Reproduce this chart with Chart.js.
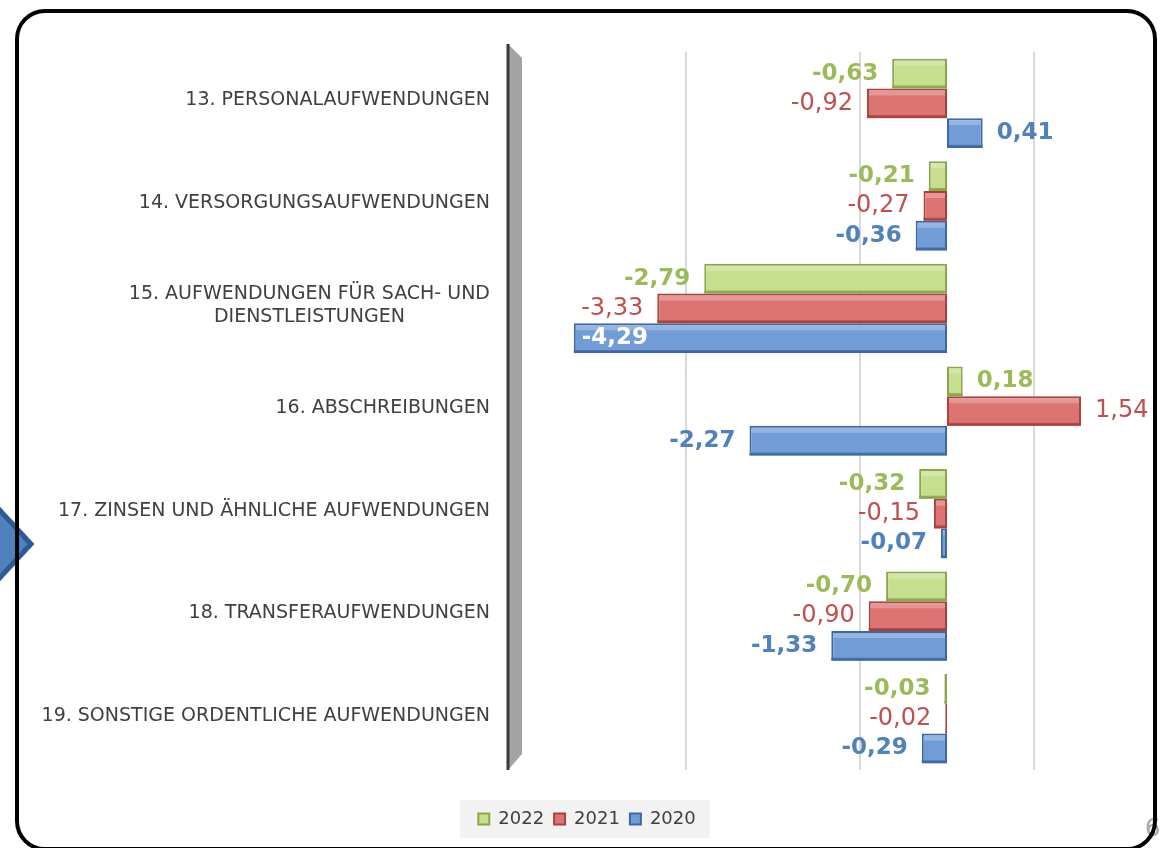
<!DOCTYPE html>
<html>
<head>
<meta charset="utf-8">
<script src="https://cdn.jsdelivr.net/npm/chart.js@4.4.1/dist/chart.umd.min.js"></script>
<style>
  html, body { margin:0; padding:0; background:#fff; overflow:hidden; }
  body { width:1167px; height:848px; position:relative; font-family:"DejaVu Sans", Verdana, sans-serif; }
  #chevron { position:absolute; left:0; top:498px; }
  #pageNo { position:absolute; left:1145px; top:814px; color:#a6a6a6; font-size:24px; }
  #frame { position:absolute; left:15px; top:9px; width:1134px; height:834px; border:4px solid #000; border-radius:30px; }
  #chart { position:absolute; left:0; top:0; }
</style>
</head>
<body>
<svg id="chevron" width="40" height="94">
  <polygon points="-6,6 31,46 -6,86" fill="#4f81bd" stroke="#2c5a92" stroke-width="5" stroke-linejoin="miter"/>
</svg>
<div id="pageNo">6</div>
<div id="frame"></div>
<canvas id="chart" width="1167" height="848"></canvas>
<script>
// Daten (Veränderung in Mio. EUR je Aufwandsart)
const categories = [
  '13. PERSONALAUFWENDUNGEN',
  '14. VERSORGUNGSAUFWENDUNGEN',
  ['15. AUFWENDUNGEN FÜR SACH- UND', 'DIENSTLEISTUNGEN'],
  '16. ABSCHREIBUNGEN',
  '17. ZINSEN UND ÄHNLICHE AUFWENDUNGEN',
  '18. TRANSFERAUFWENDUNGEN',
  '19. SONSTIGE ORDENTLICHE AUFWENDUNGEN'
];
const years = ['2022', '2021', '2020'];
const values2022 = [-0.63, -0.21, -2.79, 0.18, -0.32, -0.70, -0.03];
const values2021 = [-0.92, -0.27, -3.33, 1.54, -0.15, -0.90, -0.02];
const values2020 = [0.41, -0.36, -4.29, -2.27, -0.07, -1.33, -0.29];
const gridValues = [-3, -1, 1];

const fills   = ['#c6df8e', '#dc7572', '#729cd6'];
const borders = ['#8aa54c', '#a8413f', '#3d68a5'];
const labelColors = ['#9bbb59', '#c0504d', '#4f81bd'];
const labelFonts  = ['bold 23px "DejaVu Sans"', '24px "DejaVu Sans"', 'bold 23px "DejaVu Sans"'];

function fmt(v){ return v.toFixed(2).replace('.', ','); }

// graue 3D-Wand links
const wallPlugin = {
  id: 'wall',
  beforeDatasetsDraw(chart){
    const { ctx, chartArea: a } = chart;
    ctx.save();
    ctx.fillStyle = '#a3a3a3';
    ctx.beginPath();
    ctx.moveTo(a.left - 4, a.top - 8);
    ctx.lineTo(a.left + 10, a.top + 6);
    ctx.lineTo(a.left + 10, a.bottom - 16);
    ctx.lineTo(a.left - 4, a.bottom);
    ctx.closePath();
    ctx.fill();
    ctx.strokeStyle = '#3a3a3a';
    ctx.lineWidth = 3;
    ctx.beginPath();
    ctx.moveTo(a.left - 4, a.top - 8);
    ctx.lineTo(a.left - 4, a.bottom);
    ctx.stroke();
    ctx.restore();
  }
};

// dunkle Unterkante als 3D-Andeutung
const barDepth = {
  id: 'barDepth',
  afterDatasetsDraw(chart){
    const { ctx } = chart;
    chart.data.datasets.forEach((ds, di) => {
      chart.getDatasetMeta(di).data.forEach(bar => {
        const l = Math.min(bar.x, bar.base), w = Math.abs(bar.x - bar.base);
        ctx.save();
        ctx.fillStyle = borders[di];
        ctx.globalAlpha = 0.85;
        ctx.fillRect(l, bar.y + bar.height / 2 - 3, w, 3);
        ctx.globalAlpha = 0.25;
        ctx.fillStyle = '#ffffff';
        ctx.fillRect(l + 2, bar.y - bar.height / 2 + 2, Math.max(0, w - 4), 5);
        ctx.restore();
      });
    });
  }
};

// Kategorienbeschriftung (zweizeilige zentriert im Block)
const categoryLabels = {
  id: 'categoryLabels',
  afterDraw(chart){
    const { ctx, chartArea: a } = chart;
    const y = chart.scales.y;
    const right = a.left - 22;
    const lh = 23;
    ctx.save();
    ctx.font = '19px "DejaVu Sans"';
    ctx.fillStyle = '#404040';
    ctx.textBaseline = 'middle';
    categories.forEach((lab, i) => {
      const lines = Array.isArray(lab) ? lab : [lab];
      const cy = y.getPixelForValue(i) - 3;
      const maxW = Math.max(...lines.map(l => ctx.measureText(l).width));
      lines.forEach((l, k) => {
        const ly = cy + (k - (lines.length - 1) / 2) * lh;
        if (lines.length > 1) { ctx.textAlign = 'center'; ctx.fillText(l, right - maxW / 2, ly); }
        else { ctx.textAlign = 'right'; ctx.fillText(l, right, ly); }
      });
    });
    ctx.restore();
  }
};

// Werte an den Balken
const valueLabels = {
  id: 'valueLabels',
  afterDatasetsDraw(chart){
    const { ctx, chartArea: a } = chart;
    chart.data.datasets.forEach((ds, di) => {
      chart.getDatasetMeta(di).data.forEach((bar, i) => {
        const v = ds.data[i];
        const txt = fmt(v);
        ctx.save();
        ctx.font = labelFonts[di];
        ctx.textBaseline = 'middle';
        const w = ctx.measureText(txt).width;
        let x = bar.x + 14, align = 'left', color = labelColors[di];
        if (v < 0) {
          if (bar.x - 14 - w < a.left + 12) { x = bar.x + 8; color = '#ffffff'; }
          else { x = bar.x - 14; align = 'right'; }
        }
        ctx.textAlign = align;
        ctx.fillStyle = color;
        ctx.fillText(txt, x, bar.y);
        ctx.restore();
      });
    });
  }
};

// hellgrauer Hintergrund hinter der Legende
const legendBg = {
  id: 'legendBg',
  beforeDraw(chart){
    const lg = chart.legend;
    if (!lg || !lg.legendHitBoxes.length) return;
    const boxes = lg.legendHitBoxes;
    const l = Math.min(...boxes.map(b => b.left)) - 18;
    const r = Math.max(...boxes.map(b => b.left + b.width)) + 14;
    const { ctx } = chart;
    ctx.save();
    ctx.fillStyle = '#f2f2f2';
    ctx.fillRect(l, lg.top, r - l, lg.height);
    ctx.restore();
  }
};

new Chart(document.getElementById('chart').getContext('2d'), {
  type: 'bar',
  data: {
    labels: categories,
    datasets: [values2022, values2021, values2020].map((vals, i) => ({
      label: years[i],
      data: vals,
      backgroundColor: fills[i],
      borderColor: borders[i],
      borderWidth: 2,
      borderSkipped: false
    }))
  },
  options: {
    indexAxis: 'y',
    responsive: false,
    animation: false,
    layout: { padding: { left: 53, right: 46, top: 52, bottom: 10 } },
    datasets: { bar: { categoryPercentage: 0.87, barPercentage: 1 } },
    scales: {
      x: {
        min: -5, max: 2,
        afterBuildTicks: s => { s.ticks = gridValues.map(v => ({ value: v })); },
        afterFit: s => { s.height = 30; },
        ticks: { display: false },
        grid: { color: '#d9d9d9', lineWidth: 2, drawTicks: false },
        border: { display: false }
      },
      y: {
        afterFit: s => { s.width = 459; },
        ticks: { display: false },
        grid: { display: false },
        border: { display: false }
      }
    },
    plugins: {
      legend: {
        position: 'bottom',
        labels: { boxWidth: 11, boxHeight: 11, padding: 10, color: '#404040', font: { family: 'DejaVu Sans', size: 18 } }
      },
      tooltip: { enabled: false }
    }
  },
  plugins: [legendBg, wallPlugin, barDepth, valueLabels, categoryLabels]
});
</script>
</body>
</html>
